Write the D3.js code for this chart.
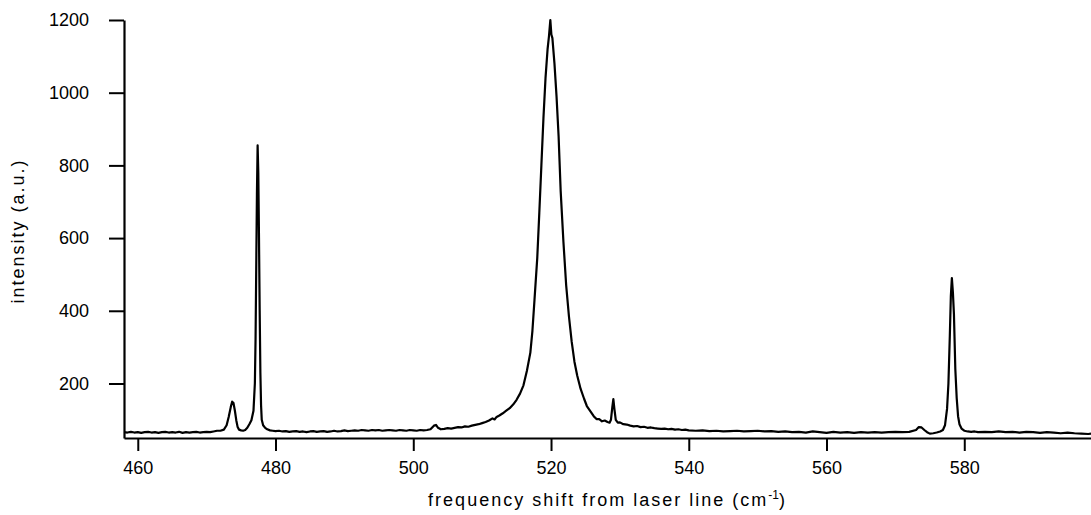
<!DOCTYPE html>
<html>
<head>
<meta charset="utf-8">
<script src="https://cdn.jsdelivr.net/npm/d3@7"></script>
<style>
  body { margin: 0; background: #fff; }
  svg text { font-family: "Liberation Sans", Arial, sans-serif; fill: #000; }
</style>
</head>
<body>
<svg id="chart"></svg>
<script>
// Raman spectrum (frequency shift in cm-1, intensity in a.u.)
const shift = [
  458, 458.5, 459, 459.5, 460, 460.5, 461, 461.5, 462, 462.5, 463, 463.5, 464, 464.5, 465, 465.5,
  466, 466.5, 467, 467.5, 468, 468.5, 469, 469.5, 470, 470.5, 471, 471.5, 472, 472.5, 472.9, 473.2,
  473.5, 473.7, 473.9, 474.1, 474.3, 474.5, 474.7, 475, 475.3, 475.6, 475.9, 476.2, 476.5, 476.8, 477,
  477.1, 477.2, 477.3, 477.4, 477.5, 477.6, 477.7, 477.8, 477.9, 478, 478.2, 478.5, 478.8, 479.2, 479.6,
  480, 480.5, 481, 481.5, 482, 482.5, 483, 483.5, 484, 484.5, 485, 485.5, 486, 486.5, 487, 487.5, 488,
  488.5, 489, 489.5, 490, 490.5, 491, 491.5, 492, 492.5, 493, 493.5, 494, 494.5, 495, 495.5, 496, 496.5,
  497, 497.5, 498, 498.5, 499, 499.5, 500, 500.5, 501, 501.5, 502, 502.5, 503, 503.3, 503.6, 504, 504.5,
  505, 505.5, 506, 506.5, 507, 507.5, 508, 508.5, 509, 509.5, 510, 510.5, 511, 511.5, 511.8, 512.1,
  512.5, 513, 513.5, 514, 514.5, 515, 515.5, 516, 516.5, 517, 517.3, 517.6, 518, 518.3, 518.6, 518.9,
  519.2, 519.5, 519.7, 519.9, 520.05, 520.2, 520.5, 520.8, 521.1, 521.4, 521.8, 522.2, 522.6, 523,
  523.4, 523.8, 524.3, 524.8, 525.2, 525.7, 526.2, 526.6, 527, 527.4, 527.8, 528.2, 528.5, 528.7, 528.9,
  529.05, 529.2, 529.4, 529.7, 530, 530.5, 531, 531.5, 532, 532.5, 533, 533.5, 534, 534.5, 535, 535.5,
  536, 536.5, 537, 537.5, 538, 538.5, 539, 539.5, 540, 541, 542, 543, 544, 545, 546, 547, 548, 549, 550,
  551, 552, 553, 554, 555, 556, 557, 558, 559, 560, 561, 562, 563, 564, 565, 566, 567, 568, 569, 570,
  571, 572, 573, 573.4, 573.8, 574.2, 574.6, 575, 575.5, 576, 576.5, 576.9, 577.2, 577.5, 577.7, 577.9,
  578.05, 578.2, 578.35, 578.5, 578.7, 578.9, 579.1, 579.3, 579.6, 580, 580.5, 581, 581.5, 582, 583,
  584, 585, 586, 587, 588, 589, 590, 591, 592, 593, 594, 595, 596, 597, 598, 598.4
];
const intensity = [
  66, 65, 67, 65, 66, 64, 66, 67, 65, 66, 64, 66, 67, 65, 66, 65,
  67, 64, 66, 65, 66, 67, 65, 66, 67, 66, 68, 70, 70, 73, 85, 108,
  135, 150, 146, 125, 99, 80, 73, 71, 70, 72, 78, 88, 99, 125, 200,
  320, 520, 720, 855, 780, 600, 400, 230, 140, 100, 85, 78, 74, 71, 70,
  69, 70, 68, 69, 67, 68, 69, 67, 68, 66, 68, 69, 67, 68, 69, 67, 68,
  70, 68, 69, 71, 69, 70, 71, 70, 72, 71, 70, 72, 71, 72, 70, 71, 72,
  71, 70, 72, 71, 70, 72, 71, 70, 72, 71, 72, 74, 84, 86, 78, 74, 75,
  77, 76, 78, 80, 79, 82, 81, 84, 86, 88, 91, 94, 98, 104, 101, 108,
  112, 118, 125, 132, 142, 155, 172, 195, 235, 285, 345, 430, 545, 670, 800, 930,
  1040, 1120, 1155, 1200, 1160, 1150, 1080, 990, 880, 730, 590, 470, 385, 315,
  260, 222, 185, 158, 138, 124, 110, 102, 102, 96, 98, 94, 92, 100, 135,
  157, 130, 100, 92, 93, 88, 87, 84, 82, 83, 80, 81, 78, 79, 77, 76,
  75, 76, 74, 75, 73, 74, 72, 73, 71, 70, 71, 69, 70, 68, 69, 70, 68, 69, 70,
  68, 69, 67, 68, 66, 67, 65, 68, 66, 64, 67, 65, 66, 64, 66, 65, 66, 65, 66, 67,
  66, 67, 72, 80, 79, 72, 66, 62, 63, 65, 68, 72, 85, 130, 200, 330,
  440, 490, 450, 390, 240, 160, 110, 88, 76, 70, 68, 67, 68, 66, 67,
  66, 68, 66, 67, 65, 67, 66, 64, 66, 65, 63, 65, 63, 62, 61, 62
];
const xTicks = [460, 480, 500, 520, 540, 560, 580];
const yTicks = [200, 400, 600, 800, 1000, 1200];

const data = shift.map((s, i) => ({ x: s, y: intensity[i] }));

// Set up SVG dimensions and margins
const margin = { top: 20, right: 0, bottom: 77, left: 124 };
const width = 1091 - margin.left - margin.right;
const height = 515 - margin.top - margin.bottom;

const svg = d3.select('#chart')
    .attr('width', width + margin.left + margin.right)
    .attr('height', height + margin.top + margin.bottom)
  .append('g')
    .attr('transform', 'translate(' + margin.left + ',' + margin.top + ')');

const x = d3.scaleLinear()
    .domain([458, 598.4])
    .range([0, width]);

const y = d3.scaleLinear()
    .domain([50, 1200])
    .range([height, 0]);

// Axes
const xAxis = svg.append('g')
    .attr('transform', 'translate(0,' + height + ')')
    .call(d3.axisBottom(x).tickValues(xTicks).tickFormat(d3.format('d'))
        .tickSize(13).tickSizeOuter(0).tickPadding(10));

const yAxis = svg.append('g')
    .call(d3.axisLeft(y).tickValues(yTicks).tickFormat(d3.format('d'))
        .tickSize(15).tickSizeOuter(0).tickPadding(20));

[xAxis, yAxis].forEach(function(ax) {
    ax.select('.domain').attr('stroke', '#000').attr('stroke-width', 2.2);
    ax.selectAll('.tick line').attr('stroke', '#000').attr('stroke-width', 2);
    ax.selectAll('.tick text')
        .style('font-size', '18px')
        .style('font-family', '"Liberation Sans", Arial, sans-serif')
        .attr('fill', '#000');
});

// Spectrum line
const line = d3.line()
    .x(d => x(d.x))
    .y(d => y(d.y));

svg.append('path')
    .datum(data)
    .attr('fill', 'none')
    .attr('stroke', '#000')
    .attr('stroke-width', 2.2)
    .attr('stroke-linejoin', 'round')
    .attr('d', line);

// Axis titles
const xTitle = svg.append('text')
    .attr('x', width / 2)
    .attr('y', height + 68)
    .attr('text-anchor', 'middle')
    .style('font-size', '18px')
    .style('letter-spacing', '2px');
xTitle.append('tspan').text('frequency shift from laser line (cm');
xTitle.append('tspan').attr('dy', -7).style('font-size', '12px').style('letter-spacing', '0px').text('-1');
xTitle.append('tspan').attr('dy', 7).text(')');

svg.append('text')
    .attr('transform', 'translate(' + (-100) + ',' + (height / 2 + 2) + ') rotate(-90)')
    .attr('text-anchor', 'middle')
    .style('font-size', '18px')
    .style('letter-spacing', '2px')
    .text('intensity (a.u.)');
</script>
</body>
</html>
